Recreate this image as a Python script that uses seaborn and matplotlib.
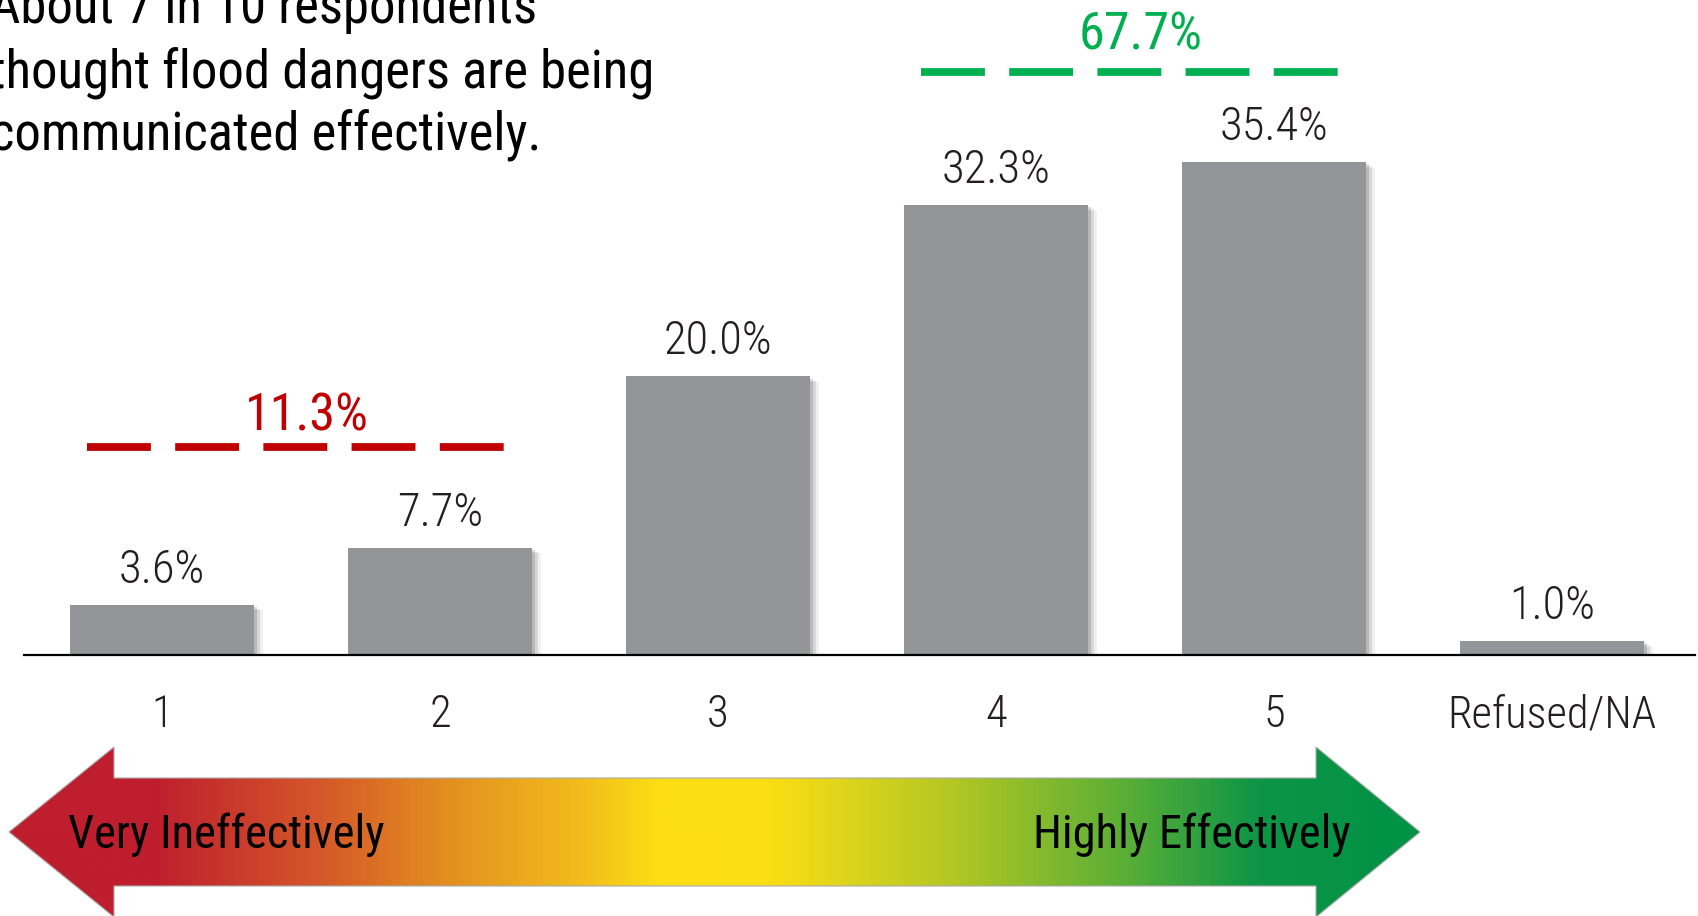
import matplotlib
matplotlib.use("Agg")
import matplotlib.pyplot as plt
import matplotlib.patheffects as pe
from matplotlib.colors import LinearSegmentedColormap
from matplotlib.patches import Polygon
import numpy as np
import pandas as pd
import seaborn as sns

# Survey responses: how effectively flood dangers are communicated
categories = ["1", "2", "3", "4", "5", "Refused/NA"]
percent = [3.6, 7.7, 20.0, 32.3, 35.4, 1.0]

# Grouped totals drawn above the bars (indices into categories)
group_low = [0, 1]
group_high = [3, 4]

title_lines = [
    "About 7 in 10 respondents",
    "thought flood dangers are being",
    "communicated effectively.",
]
scale_left = "Very Ineffectively"
scale_right = "Highly Effectively"

sns.set_theme(style="white")
plt.rcParams["font.family"] = ["Roboto Condensed", "Liberation Sans Narrow",
                               "Roboto", "DejaVu Sans"]
plt.rcParams["lines.scale_dashes"] = False

W, H = 1698, 916
fig = plt.figure(figsize=(W / 100, H / 100), dpi=100)


def fx(x):
    return x / W


def fy(y):
    return 1 - y / H


# ---- gradient arrow along the bottom (pixel space) ----
ax_arrow = fig.add_axes([0, 0, 1, 1])
ax_arrow.set_xlim(0, W)
ax_arrow.set_ylim(H, 0)
ax_arrow.axis("off")
ax_arrow.patch.set_visible(False)

tip_l, base_l, base_r, tip_r = 9, 114, 1316, 1420
yc, body_t, body_b, head_t, head_b = 832, 778, 886, 747, 917
arrow_pts = [
    (tip_l, yc), (base_l, head_t), (base_l, body_t), (base_r, body_t),
    (base_r, head_t), (tip_r, yc), (base_r, head_b), (base_r, body_b),
    (base_l, body_b), (base_l, head_b),
]
stops = [
    (9, "#BE1E2D"), (150, "#BE1E2D"), (312, "#D4552A"), (446, "#E38F20"),
    (580, "#F2BC1C"), (660, "#FDDE14"), (770, "#FBDE14"), (950, "#B5C723"),
    (1128, "#5AAE37"), (1262, "#0D9546"), (1420, "#009245"),
]
cmap = LinearSegmentedColormap.from_list(
    "scale", [((p - tip_l) / (tip_r - tip_l), c) for p, c in stops]
)
grad = np.linspace(0, 1, 600).reshape(1, -1)
img = ax_arrow.imshow(grad, cmap=cmap, aspect="auto",
                      extent=(tip_l, tip_r, head_b, head_t), zorder=1)
poly = Polygon(arrow_pts, closed=True, facecolor="none",
               edgecolor="#A9A9A9", linewidth=0.8, zorder=2)
ax_arrow.add_patch(poly)
img.set_clip_path(poly)

ax_arrow.text(68, yc - 2, scale_left, ha="left", va="center_baseline",
              fontsize=33.5, color="black", zorder=3)
ax_arrow.text(1351, yc - 2, scale_right, ha="right", va="center_baseline",
              fontsize=33.5, color="black", zorder=3)

# ---- bar chart ----
base_y = 655
px_per_pct = 493 / 35.4
slot = 278
x0 = 162
left_px, right_px = 24, 1695

ax = fig.add_axes([fx(left_px), fy(base_y), (right_px - left_px) / W, base_y / H])
ax.patch.set_visible(False)

df = pd.DataFrame({"category": categories, "percent": percent})
sns.barplot(data=df, x="category", y="percent", color="#939598",
            saturation=1, width=0.665, ax=ax, zorder=3)

shadow = [
    pe.SimplePatchShadow(offset=(6, -4), shadow_rgbFace="#000000", alpha=0.06),
    pe.SimplePatchShadow(offset=(4, -3), shadow_rgbFace="#000000", alpha=0.10),
    pe.SimplePatchShadow(offset=(2, -1.5), shadow_rgbFace="#000000", alpha=0.14),
    pe.Normal(),
]
for bar in ax.patches:
    bar.set_path_effects(shadow)
    bar.set_edgecolor("none")

ax.set_xlim((left_px - x0) / slot, (right_px - x0) / slot)
ax.set_ylim(0, base_y / px_per_pct)

for i, v in enumerate(percent):
    ax.annotate(f"{v:.1f}%", xy=(i, v), xytext=(0, 16), textcoords="offset points",
                ha="center", va="baseline", fontsize=33.5, fontweight="light",
                color="#231F20", annotation_clip=False)

# dashed brackets with the combined share of each group
groups = [
    (group_low, "#C00000", 14.94, 12),
    (group_high, "#00B050", 41.86, 16),
]
for idx, color, y, lift in groups:
    total = sum(percent[i] for i in idx)
    xa, xb = idx[0] - 0.27, idx[-1] + 0.23
    ax.plot([xa, xb], [y, y], color=color, lw=5.6, solid_capstyle="butt",
            dash_capstyle="butt", linestyle=(0, (46, 17.5)), clip_on=False)
    ax.annotate(f"{total:.1f}%", xy=((xa + xb) / 2 + 0.04, y), xytext=(0, lift),
                textcoords="offset points", ha="center", va="baseline",
                fontsize=37.5, color=color, annotation_clip=False)

sns.despine(ax=ax, left=True, top=True, right=True)
ax.spines["bottom"].set_color("black")
ax.spines["bottom"].set_linewidth(1.6)
ax.spines["bottom"].set_zorder(4)
ax.set_yticks([])
ax.set_xlabel("")
ax.set_ylabel("")
ax.tick_params(axis="x", length=0, pad=28, labelsize=32, labelcolor="#231F20")
for lbl in ax.get_xticklabels():
    lbl.set_fontweight("light")

# headline, set partly off the left edge
for y, line in zip([23, 88, 151], title_lines):
    fig.text(fx(-10), fy(y), line, ha="left", va="baseline",
             fontsize=38, color="black")

fig.savefig("out.png", dpi=100)
